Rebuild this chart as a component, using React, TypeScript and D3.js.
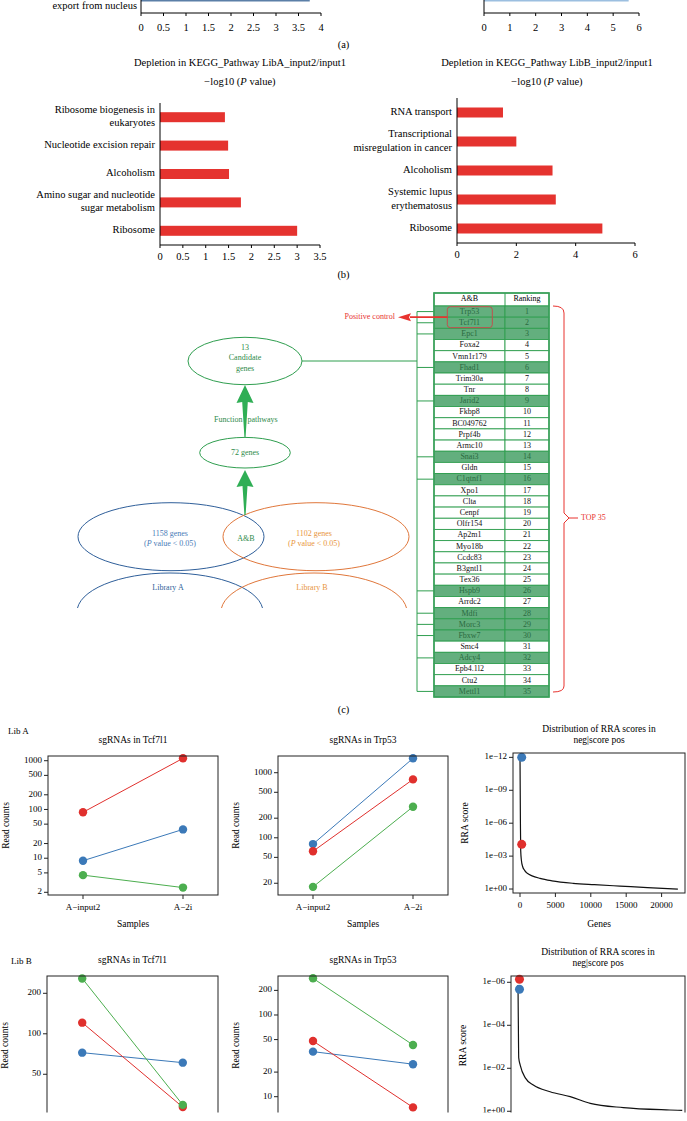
import React from "react";
import * as d3 from "d3";

const FONT = "'Liberation Serif','DejaVu Serif','Times New Roman',serif";
const RED = "#e5332f";
const GREEN = "#2f9e4f";
const BLUE_DOT = "#3b79b8";
const RED_DOT = "#e0302d";
const GREEN_DOT = "#4cae4f";

// ---------- Panel (a) (cropped at top) ----------
const aLeftCategories = ["export from nucleus"];
const aLeftValues = [3.75];
const aLeftTicks = [0, 0.5, 1, 1.5, 2, 2.5, 3, 3.5, 4];
const aRightValues = [5.6];
const aRightTicks = [0, 1, 2, 3, 4, 5, 6];

// ---------- Panel (b) ----------
const bLeftTitle = "Depletion in KEGG_Pathway LibA_input2/input1";
const bLeftCategories = ["Ribosome biogenesis in|eukaryotes", "Nucleotide excision repair", "Alcoholism", "Amino sugar and nucleotide|sugar metabolism", "Ribosome"];
const bLeftValues = [1.42, 1.49, 1.51, 1.77, 3.0];
const bLeftTicks = [0, 0.5, 1, 1.5, 2, 2.5, 3, 3.5];
const bRightTitle = "Depletion in KEGG_Pathway LibB_input2/input1";
const bRightCategories = ["RNA transport", "Transcriptional|misregulation in cancer", "Alcoholism", "Systemic lupus|erythematosus", "Ribosome"];
const bRightValues = [1.55, 2.0, 3.22, 3.33, 4.9];
const bRightTicks = [0, 2, 4, 6];

// ---------- Panel (c) ----------
const tableGenes = ["Trp53", "Tcf7l1", "Epc1", "Foxa2", "Vmn1r179", "Fhad1", "Trim30a", "Tnr", "Jarid2", "Fkbp8", "BC049762", "Prpf4b", "Armc10", "Snai3", "Gldn", "C1qtnf1", "Xpo1", "Clta", "Cenpf", "Olfr154", "Ap2m1", "Myo18b", "Ccdc83", "B3gntl1", "Tex36", "Hspb9", "Arrdc2", "Mdfi", "Morc3", "Fbxw7", "Smc4", "Adcy4", "Epb4.1l2", "Ctu2", "Mettl1"];
const tableRanks = [1, 2, 3, 4, 5, 6, 7, 8, 9, 10, 11, 12, 13, 14, 15, 16, 17, 18, 19, 20, 21, 22, 23, 24, 25, 26, 27, 28, 29, 30, 31, 32, 33, 34, 35];
const candidateRanks = [1, 2, 3, 6, 9, 14, 16, 26, 28, 29, 30, 32, 35];
const positiveControlRanks = [1, 2];

// ---------- Panel (d) ----------
const sampleLabels = ["A\u2212input2", "A\u22122i"];
// values at [input2, 2i]
const libATcf7l1Blue = [8.9, 39];
const libATcf7l1Red = [87.5, 1120];
const libATcf7l1Green = [4.5, 2.5];
const libATcf7l1Ticks = [2, 5, 10, 20, 50, 100, 200, 500, 1000];
const libATrp53Blue = [80, 1665];
const libATrp53Red = [62, 790];
const libATrp53Green = [17.6, 300];
const libATrp53Ticks = [20, 50, 100, 200, 500, 1000];
const libBTcf7l1Blue = [72.4, 61];
const libBTcf7l1Red = [121, 28.5];
const libBTcf7l1Green = [258, 29.6];
const libBTcf7l1Ticks = [50, 100, 200];
const libBTrp53Blue = [35.6, 25];
const libBTrp53Red = [48, 7.4];
const libBTrp53Green = [281, 43];
const libBTrp53Ticks = [10, 20, 50, 100, 200];

const rraARanks = [1, 60, 100, 200, 380, 650, 1030, 1700, 2820, 4500, 7490, 10500, 14120, 18000, 22300];
const rraAScores = [1e-12, 1e-6, 3.2e-4, 2.5e-3, 9.3e-3, 0.02, 0.037, 0.063, 0.107, 0.178, 0.3, 0.4, 0.54, 0.74, 1.0];
const rraAHitRanks = [240, 240];
const rraAHitScores = [1e-12, 8.5e-5]; // blue (Trp53), red (Tcf7l1)
const rraAYTicks = [1e-12, 1e-9, 1e-6, 1e-3, 1];
const rraAYLabels = ["1e\u221212", "1e\u221209", "1e\u221206", "1e\u221203", "1e+00"];
const rraXTicks = [0, 5000, 10000, 15000, 20000];

const rraBRanks = [1, 50, 100, 300, 1000, 2100, 4400, 7150, 9900, 14430, 20800, 22500];
const rraBScores = [1.35e-6, 1e-4, 3.3e-3, 7.1e-3, 0.028, 0.06, 0.123, 0.209, 0.427, 0.676, 0.871, 0.91];
const rraBHitRanks = [200, 200];
const rraBHitScores = [2.1e-6, 7.2e-7]; // blue, red
const rraBYTicks = [1e-6, 1e-4, 1e-2, 1];
const rraBYLabels = ["1e\u221206", "1e\u221204", "1e\u221202", "1e+00"];

// ================= components =================
function PanelA() {
  const axisY = 13;
  const xl = d3.scaleLinear().domain([0, 4]).range([141, 321]);
  const xr = d3.scaleLinear().domain([0, 6]).range([484, 639]);
  return (
    <g>
      {aLeftValues.map((v, i) => (
        <rect key={"al" + i} x={xl(0)} y={-6} width={xl(v) - xl(0)} height={7.5} fill="#5b7fa7" />
      ))}
      {aLeftCategories.map((c) => (
        <text key={c} x={137} y={7} textAnchor="end" dominantBaseline="middle" fontSize={10.5}>{c}</text>
      ))}
      <line x1={xl(0)} x2={xl(0)} y1={0} y2={axisY} stroke="#000" />
      <line x1={xl(0)} x2={xl(4)} y1={axisY} y2={axisY} stroke="#000" />
      {aLeftTicks.map((t) => (
        <g key={"at" + t}>
          <line x1={xl(t)} x2={xl(t)} y1={axisY} y2={axisY + 3} stroke="#000" />
          <text x={xl(t)} y={axisY + 16} textAnchor="middle" dominantBaseline="middle" fontSize={10.5}>{t}</text>
        </g>
      ))}
      {aRightValues.map((v, i) => (
        <rect key={"ar" + i} x={xr(0)} y={-6} width={xr(v) - xr(0)} height={7.5} fill="#9cbfe0" />
      ))}
      <line x1={xr(0)} x2={xr(0)} y1={0} y2={axisY} stroke="#000" />
      <line x1={xr(0)} x2={xr(6)} y1={axisY} y2={axisY} stroke="#000" />
      {aRightTicks.map((t) => (
        <g key={"art" + t}>
          <line x1={xr(t)} x2={xr(t)} y1={axisY} y2={axisY + 3} stroke="#000" />
          <text x={xr(t)} y={axisY + 16} textAnchor="middle" dominantBaseline="middle" fontSize={10.5}>{t}</text>
        </g>
      ))}
      <text x={343.5} y={46} textAnchor="middle" dominantBaseline="middle" fontSize={10.5}>(a)</text>
    </g>
  );
}

function HBarChart(props: any) {
  const { categories, values, ticks, xMax, x0, x1, yTop, yBottom, title, titleX } = props;
  const x = d3.scaleLinear().domain([0, xMax]).range([x0, x1]);
  const y = d3.scalePoint<string>().domain(categories).range([yTop, yBottom]).padding(0.5);
  return (
    <g>
      <text x={titleX} y={64} textAnchor="middle" dominantBaseline="middle" fontSize={10.5}>{title}</text>
      <text x={titleX} y={82.5} textAnchor="middle" dominantBaseline="middle" fontSize={10.5}>
        {"\u2212log10 ("}<tspan fontStyle="italic">P</tspan>{" value)"}
      </text>
      {categories.map((c: string, i: number) => {
        const yc = y(c) as number;
        const lines = c.split("|");
        return (
          <g key={c}>
            <rect x={x(0)} y={yc - 5} width={x(values[i]) - x(0)} height={10} fill={RED} />
            {lines.map((ln, k) => (
              <text key={k} x={x0 - 5} y={yc + (k - (lines.length - 1) / 2) * 13.3} textAnchor="end" dominantBaseline="middle" fontSize={10.5}>{ln}</text>
            ))}
          </g>
        );
      })}
      <line x1={x0} x2={x0} y1={yTop} y2={yBottom} stroke="#000" />
      <line x1={x0} x2={x1} y1={yBottom} y2={yBottom} stroke="#000" />
      {ticks.map((t: number) => (
        <g key={t}>
          <line x1={x(t)} x2={x(t)} y1={yBottom} y2={yBottom + 3} stroke="#000" />
          <text x={x(t)} y={yBottom + 13} textAnchor="middle" dominantBaseline="middle" fontSize={10.5}>{t}</text>
        </g>
      ))}
    </g>
  );
}

function PanelB() {
  return (
    <g>
      <HBarChart categories={bLeftCategories} values={bLeftValues} ticks={bLeftTicks} xMax={3.5} x0={160} x1={320} yTop={103} yBottom={245} title={bLeftTitle} titleX={240} />
      <HBarChart categories={bRightCategories} values={bRightValues} ticks={bRightTicks} xMax={6} x0={457} x1={635} yTop={98} yBottom={243} title={bRightTitle} titleX={547} />
      <text x={343.5} y={276} textAnchor="middle" dominantBaseline="middle" fontSize={10.5}>(b)</text>
    </g>
  );
}

function PanelC() {
  const tx0 = 434, tx1 = 505, tx2 = 549;
  const row = d3.scaleBand<number>().domain(tableRanks).range([306, 697]);
  const rh = row.bandwidth();
  const isCand = (r: number) => candidateRanks.includes(r);
  const lineX = 417;
  const cx = 245;
  const arrowHead = (tipY: number, baseY: number, tailY: number, shaftW: number) =>
    `M${cx},${tipY} L${cx + 8.5},${baseY} L${cx + shaftW},${baseY - 1} L${cx + 0.6},${tailY} L${cx - 0.6},${tailY} L${cx - shaftW},${baseY - 1} L${cx - 8.5},${baseY} Z`;
  const pcTop = row(positiveControlRanks[0]) as number;
  const pcBot = (row(positiveControlRanks[positiveControlRanks.length - 1]) as number) + rh;
  const pcMid = (pcTop + pcBot) / 2;
  return (
    <g>
      <defs>
        <clipPath id="libclip"><rect x={0} y={560} width={420} height={48} /></clipPath>
      </defs>
      <ellipse cx={171} cy={536.7} rx={93} ry={34} fill="none" stroke="#2f5f9a" strokeWidth={1} />
      <ellipse cx={316} cy={536.7} rx={93} ry={34} fill="none" stroke="#e0773b" strokeWidth={1} />
      <g clipPath="url(#libclip)">
        <ellipse cx={170} cy={612} rx={93} ry={39} fill="none" stroke="#2f5f9a" strokeWidth={1} />
        <ellipse cx={314} cy={612} rx={93} ry={39} fill="none" stroke="#e0773b" strokeWidth={1} />
      </g>
      <text x={170} y={534} textAnchor="middle" dominantBaseline="middle" fontSize={8} fill="#4a7bb7">1158 genes</text>
      <text x={170} y={544} textAnchor="middle" dominantBaseline="middle" fontSize={8} fill="#4a7bb7">(<tspan fontStyle="italic">P</tspan> value &lt; 0.05)</text>
      <text x={314} y={534} textAnchor="middle" dominantBaseline="middle" fontSize={8} fill="#e8953d">1102 genes</text>
      <text x={314} y={544} textAnchor="middle" dominantBaseline="middle" fontSize={8} fill="#e8953d">(<tspan fontStyle="italic">P</tspan> value &lt; 0.05)</text>
      <text x={246} y={539.5} textAnchor="middle" dominantBaseline="middle" fontSize={8} fill="#2e8b4a">A&amp;B</text>
      <text x={168} y={588} textAnchor="middle" dominantBaseline="middle" fontSize={8} fill="#2f5f9a">Library A</text>
      <text x={312} y={588} textAnchor="middle" dominantBaseline="middle" fontSize={8} fill="#e8953d">Library B</text>

      <path d={arrowHead(470, 487, 515, 2.5)} fill="#2fae55" />
      <ellipse cx={cx} cy={452.7} rx={45.3} ry={15.3} fill="#fff" stroke={GREEN} strokeWidth={1} />
      <text x={cx} y={453.3} textAnchor="middle" dominantBaseline="middle" fontSize={8} fill="#2e8b4a">72 genes</text>
      <path d={arrowHead(385, 403, 437, 2.8)} fill="#2fae55" />
      <text x={cx - 2.5} y={420} textAnchor="end" dominantBaseline="middle" fontSize={8} fill="#2e8b4a">Function</text>
      <text x={cx + 2.5} y={420} textAnchor="start" dominantBaseline="middle" fontSize={8} fill="#2e8b4a">pathways</text>
      <ellipse cx={cx} cy={361} rx={57} ry={23.7} fill="#fff" stroke={GREEN} strokeWidth={1} />
      <text x={cx} y={347.7} textAnchor="middle" dominantBaseline="middle" fontSize={8} fill="#2e8b4a">13</text>
      <text x={cx} y={358.3} textAnchor="middle" dominantBaseline="middle" fontSize={8} fill="#2e8b4a">Candidate</text>
      <text x={cx} y={369} textAnchor="middle" dominantBaseline="middle" fontSize={8} fill="#2e8b4a">genes</text>
      <line x1={cx + 57} x2={lineX} y1={361} y2={361} stroke={GREEN} strokeWidth={1} />

      <line x1={lineX} x2={lineX} y1={(row(candidateRanks[0]) as number) + rh / 2} y2={(row(candidateRanks[candidateRanks.length - 1]) as number) + rh / 2} stroke={GREEN} strokeWidth={1} />
      {candidateRanks.map((r) => (
        <line key={"cl" + r} x1={lineX} x2={tx0} y1={(row(r) as number) + rh / 2} y2={(row(r) as number) + rh / 2} stroke={GREEN} strokeWidth={1} />
      ))}

      <rect x={tx0} y={293} width={tx2 - tx0} height={13} fill="#fff" stroke={GREEN} strokeWidth={1} />
      <line x1={tx1} x2={tx1} y1={293} y2={306} stroke={GREEN} />
      <text x={(tx0 + tx1) / 2} y={299.5} textAnchor="middle" dominantBaseline="middle" fontSize={8}>A&amp;B</text>
      <text x={(tx1 + tx2) / 2} y={299.5} textAnchor="middle" dominantBaseline="middle" fontSize={8}>Ranking</text>
      {tableRanks.map((r, i) => {
        const y0 = row(r) as number;
        const c = isCand(r);
        const fill = c ? "#63af7e" : "#fff";
        const tc = c ? "#2a6a3f" : "#111";
        return (
          <g key={"row" + r}>
            <rect x={tx0} y={y0} width={tx1 - tx0} height={rh} fill={fill} stroke={GREEN} strokeWidth={0.9} />
            <rect x={tx1} y={y0} width={tx2 - tx1} height={rh} fill={fill} stroke={GREEN} strokeWidth={0.9} />
            <text x={(tx0 + tx1) / 2} y={y0 + rh / 2 + 0.5} textAnchor="middle" dominantBaseline="middle" fontSize={8} fill={tc}>{tableGenes[i]}</text>
            <text x={(tx1 + tx2) / 2} y={y0 + rh / 2 + 0.5} textAnchor="middle" dominantBaseline="middle" fontSize={8} fill={tc}>{r}</text>
          </g>
        );
      })}
      <rect x={tx0} y={293} width={tx2 - tx0} height={697 - 293} fill="none" stroke="#3aa05a" strokeWidth={1.6} />

      <rect x={447.3} y={pcTop + 0.7} width={45} height={pcBot - pcTop - 1.4} rx={3} fill="none" stroke="#c0504d" strokeWidth={1} />
      <line x1={410} x2={447.3} y1={pcMid} y2={pcMid} stroke="#e8332f" strokeWidth={1.6} />
      <path d={`M398,${pcMid} L411,${pcMid - 4} L409,${pcMid} L411,${pcMid + 4} Z`} fill="#e8332f" />
      <text x={395} y={pcMid} textAnchor="end" dominantBaseline="middle" fontSize={8} fill="#e8332f">Positive control</text>

      <path d={`M553,306 Q564,306 564,313 L564,513 L569,518 L564,523 L564,686 Q564,692 553,692`} fill="none" stroke="#e8332f" strokeWidth={1} />
      <line x1={569} x2={578} y1={518} y2={518} stroke="#e8332f" strokeWidth={1} />
      <text x={581} y={518} textAnchor="start" dominantBaseline="middle" fontSize={8} fill="#e8332f">TOP 35</text>

      <text x={343.5} y={711} textAnchor="middle" dominantBaseline="middle" fontSize={10.5}>(c)</text>
    </g>
  );
}

function SgChart(props: any) {
  const { box, domain, ticks, title, series, showX } = props;
  const y = d3.scaleLog().domain(domain).range([box.y1, box.y0]);
  const x = d3.scalePoint<string>().domain(sampleLabels).range([box.x0, box.x1]).padding(0.35);
  const cx = (box.x0 + box.x1) / 2;
  return (
    <g>
      <text x={cx} y={box.y0 - 15} textAnchor="middle" dominantBaseline="middle" fontSize={9.5}>{title}</text>
      {series.map((s: any, i: number) => (
        <line key={"l" + i} x1={x(sampleLabels[0])} x2={x(sampleLabels[1])} y1={y(s.values[0])} y2={y(s.values[1])} stroke={s.color} strokeWidth={1} />
      ))}
      {series.map((s: any, i: number) =>
        s.values.map((v: number, j: number) => (
          <circle key={"c" + i + "-" + j} cx={x(sampleLabels[j])} cy={y(v)} r={4.2} fill={s.color} />
        ))
      )}
      <rect x={box.x0} y={box.y0} width={box.x1 - box.x0} height={box.y1 - box.y0} fill="none" stroke="#222" strokeWidth={1} />
      {ticks.map((t: number) => (
        <g key={"t" + t}>
          <line x1={box.x0 - 4} x2={box.x0} y1={y(t)} y2={y(t)} stroke="#222" />
          <text x={box.x0 - 6} y={y(t)} textAnchor="end" dominantBaseline="middle" fontSize={9}>{t}</text>
        </g>
      ))}
      <text transform={`translate(${box.x0 - 41},${(box.y0 + box.y1) / 2}) rotate(-90)`} textAnchor="middle" dominantBaseline="middle" fontSize={9.5}>Read counts</text>
      {showX && sampleLabels.map((s) => (
        <g key={s}>
          <line x1={x(s)} x2={x(s)} y1={box.y1} y2={box.y1 + 4} stroke="#222" />
          <text x={x(s)} y={box.y1 + 13} textAnchor="middle" dominantBaseline="middle" fontSize={9}>{s}</text>
        </g>
      ))}
      {showX && <text x={cx} y={box.y1 + 30} textAnchor="middle" dominantBaseline="middle" fontSize={9.5}>Samples</text>}
    </g>
  );
}

function RraChart(props: any) {
  const { box, yDomain, xDomain, ranks, scores, hitRanks, hitScores, yTicks, yLabels, showX } = props;
  const y = d3.scaleLog().domain(yDomain).range([box.y1, box.y0]);
  const x = d3.scaleLinear().domain(xDomain).range([box.x0, box.x1]);
  const pts: [number, number][] = ranks.map((r: number, i: number) => [r, scores[i]]);
  const path = d3.line<[number, number]>().x((d) => x(d[0])).y((d) => y(d[1])).curve(d3.curveMonotoneX)(pts) || "";
  const cx = (box.x0 + box.x1) / 2;
  const hitColors = [BLUE_DOT, RED_DOT];
  return (
    <g>
      <text x={cx} y={box.y0 - 23} textAnchor="middle" dominantBaseline="middle" fontSize={9.5}>Distribution of RRA scores in</text>
      <text x={cx} y={box.y0 - 12} textAnchor="middle" dominantBaseline="middle" fontSize={9.5}>neg|score pos</text>
      <path d={path} fill="none" stroke="#111" strokeWidth={1.2} />
      {hitRanks.map((r: number, i: number) => (
        <circle key={"h" + i} cx={x(r)} cy={y(hitScores[i])} r={4.5} fill={hitColors[i]} />
      ))}
      <rect x={box.x0} y={box.y0} width={box.x1 - box.x0} height={box.y1 - box.y0} fill="none" stroke="#222" strokeWidth={1} />
      {yTicks.map((t: number, i: number) => (
        <g key={"t" + i}>
          <line x1={box.x0 - 4} x2={box.x0} y1={y(t)} y2={y(t)} stroke="#222" />
          <text x={box.x0 - 6} y={y(t)} textAnchor="end" dominantBaseline="middle" fontSize={9}>{yLabels[i]}</text>
        </g>
      ))}
      <text transform={`translate(${box.x0 - 47},${(box.y0 + box.y1) / 2}) rotate(-90)`} textAnchor="middle" dominantBaseline="middle" fontSize={9.5}>RRA score</text>
      {showX && rraXTicks.map((t) => (
        <g key={"x" + t}>
          <line x1={x(t)} x2={x(t)} y1={box.y1} y2={box.y1 + 4} stroke="#222" />
          <text x={x(t)} y={box.y1 + 13} textAnchor="middle" dominantBaseline="middle" fontSize={9}>{t}</text>
        </g>
      ))}
      {showX && <text x={cx} y={box.y1 + 32} textAnchor="middle" dominantBaseline="middle" fontSize={9.5}>Genes</text>}
    </g>
  );
}

function PanelD() {
  const ser = (b: number[], r: number[], g: number[]) => [
    { color: BLUE_DOT, values: b },
    { color: RED_DOT, values: r },
    { color: GREEN_DOT, values: g },
  ];
  return (
    <g>
      <text x={8} y={732} dominantBaseline="middle" fontSize={9}>Lib A</text>
      <SgChart box={{ x0: 48, x1: 218, y0: 756, y1: 895 }} domain={[1.761, 1249]} ticks={libATcf7l1Ticks} title="sgRNAs in Tcf7l1" series={ser(libATcf7l1Blue, libATcf7l1Red, libATcf7l1Green)} showX={true} />
      <SgChart box={{ x0: 278, x1: 448, y0: 756, y1: 895 }} domain={[13.2, 1807]} ticks={libATrp53Ticks} title="sgRNAs in Trp53" series={ser(libATrp53Blue, libATrp53Red, libATrp53Green)} showX={true} />
      <RraChart box={{ x0: 513, x1: 685, y0: 753, y1: 893 }} yDomain={[2.3, 4e-13]} xDomain={[-989, 23305]} ranks={rraARanks} scores={rraAScores} hitRanks={rraAHitRanks} hitScores={rraAHitScores} yTicks={rraAYTicks} yLabels={rraAYLabels} showX={true} />

      <defs>
        <clipPath id="libBclip"><rect x={0} y={900} width={687} height={212.5} /></clipPath>
      </defs>
      <g clipPath="url(#libBclip)">
        <text x={11} y={962} dominantBaseline="middle" fontSize={9}>Lib B</text>
        <SgChart box={{ x0: 47, x1: 218, y0: 976, y1: 1115 }} domain={[24.9, 269]} ticks={libBTcf7l1Ticks} title="sgRNAs in Tcf7l1" series={ser(libBTcf7l1Blue, libBTcf7l1Red, libBTcf7l1Green)} showX={false} />
        <SgChart box={{ x0: 278, x1: 448, y0: 976, y1: 1115 }} domain={[5.97, 300]} ticks={libBTrp53Ticks} title="sgRNAs in Trp53" series={ser(libBTrp53Blue, libBTrp53Red, libBTrp53Green)} showX={false} />
        <RraChart box={{ x0: 511, x1: 685, y0: 976, y1: 1115 }} yDomain={[1.49, 5.1e-7]} xDomain={[-959, 22877]} ranks={rraBRanks} scores={rraBScores} hitRanks={rraBHitRanks} hitScores={rraBHitScores} yTicks={rraBYTicks} yLabels={rraBYLabels} showX={false} />
      </g>
    </g>
  );
}

export default function App() {
  return (
    <div style={{ position: "absolute", left: 0, top: 0, background: "#fff" }}>
      <svg width={687} height={1121} style={{ display: "block", fontFamily: FONT }}>
        <rect width={687} height={1121} fill="#fff" />
        <PanelA />
        <PanelB />
        <PanelC />
        <PanelD />
      </svg>
    </div>
  );
}
